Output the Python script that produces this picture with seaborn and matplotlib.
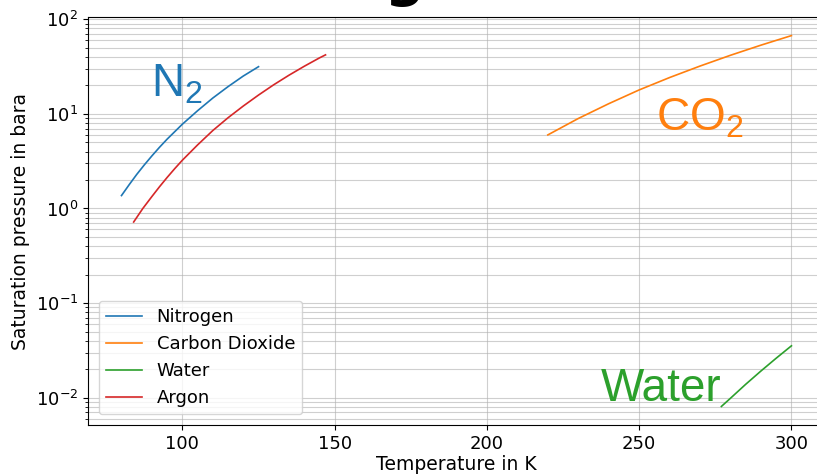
import seaborn as sns
import pandas as pd
import matplotlib.pyplot as plt

# saturation pressure curves (bar)
t_n2 = [80, 82.5, 85, 87.5, 90, 92.5, 95, 100, 105, 110, 115, 120, 125]
p_n2 = [1.37, 1.78, 2.29, 2.89, 3.60, 4.44, 5.41, 7.78, 10.8, 14.7, 19.4, 25.1, 31.5]

t_co2 = [220, 230, 240, 250, 260, 270, 280, 290, 300]
p_co2 = [5.99, 8.93, 12.8, 17.9, 24.2, 32.0, 41.6, 53.2, 67.1]

t_h2o = [277, 280, 285, 290, 295, 300]
p_h2o = [0.0081, 0.0099, 0.0139, 0.0192, 0.0262, 0.0354]

t_ar = [84, 87, 90, 92.5, 95, 97.5, 100, 105, 110, 115, 120, 125, 130, 135, 140, 145, 147]
p_ar = [0.72, 1.00, 1.34, 1.70, 2.13, 2.64, 3.24, 4.7, 6.67, 9.1, 12.1, 15.8, 20.3, 25.6, 31.8, 39.0, 42.0]

names = ['Nitrogen', 'Carbon Dioxide', 'Water', 'Argon']

frames = []
for name, t, p in zip(names, [t_n2, t_co2, t_h2o, t_ar], [p_n2, p_co2, p_h2o, p_ar]):
    frames.append(pd.DataFrame({'T': t, 'p': p, 'gas': name}))
df = pd.concat(frames, ignore_index=True)

plt.rcParams['mathtext.fontset'] = 'custom'
plt.rcParams['mathtext.rm'] = 'Liberation Sans'
plt.rcParams['mathtext.it'] = 'Liberation Sans'

fig = plt.figure(figsize=(8.17, 4.74), dpi=100)
ax = fig.add_axes([0.1077, 0.1034, 0.902, 0.8606])

colors = ['tab:blue', 'tab:orange', 'tab:green', 'tab:red']
sns.lineplot(data=df, x='T', y='p', hue='gas', hue_order=names,
             palette=colors, linewidth=1.2, ax=ax, sort=False)
ax.set_yscale('log')
ax.grid(which='both', color='#b0b0b0', alpha=0.6, linewidth=0.8)

ax.set_xlabel('Temperature in K', fontsize=13.5, labelpad=2)
ax.set_ylabel('Saturation pressure in bara', fontsize=13.5)
ax.tick_params(labelsize=13)
ax.legend(title=None, loc='lower left', fontsize=13, labelspacing=0.5,
          borderaxespad=0.6)

# big labels next to the curves
ax.text(89.8, 15.4, 'N$_2$', fontsize=33, color='#1f77b4', family='Liberation Sans')
ax.text(255.4, 6.7, 'CO$_2$', fontsize=33, color='#ff7f0e', family='Liberation Sans')
ax.text(237.4, 0.0093, 'Water', fontsize=33, color='#2ca02c', family='Liberation Sans')

# title sits mostly above the canvas, only its descender shows
fig.text(0.525, 1.011, 'Boiling curves', fontsize=40, weight='bold', ha='center', va='baseline')

fig.savefig('out.png', dpi=100)
